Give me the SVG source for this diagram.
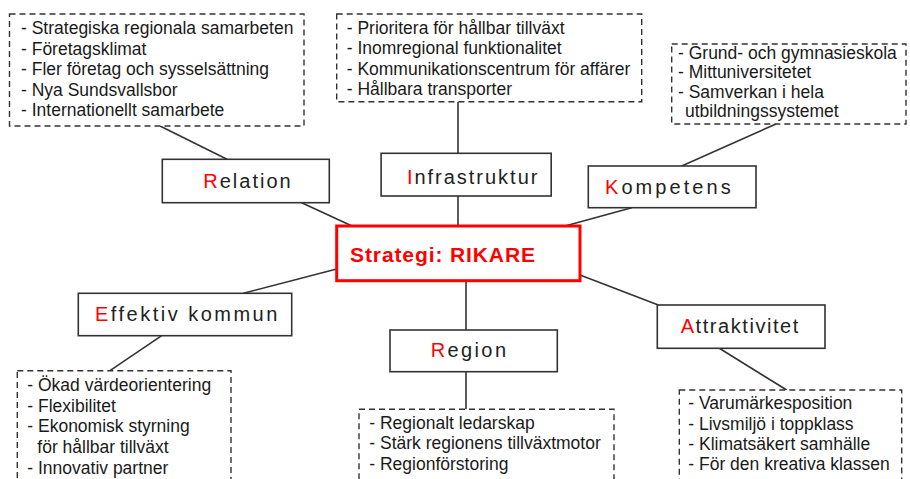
<svg xmlns="http://www.w3.org/2000/svg" width="910" height="479" viewBox="0 0 910 479">
<style>
.bg{fill:#fff}
.box{fill:#fff;stroke:#333;stroke-width:1.6}
.dbox{fill:#fff;stroke:#333;stroke-width:1.4;stroke-dasharray:6 4}
.center{fill:#fff;stroke:#ff0000;stroke-width:3}
.lbl{font-family:"Liberation Sans",Arial,sans-serif;font-size:20px;fill:#222}
.item{font-family:"Liberation Sans",Arial,sans-serif;font-size:17.5px;fill:#1a1a1a}
.red{fill:#ff0000}
.ctext{font-family:"Liberation Sans",Arial,sans-serif;font-size:21px;font-weight:bold;fill:#ff0000}
.conn line{stroke:#333;stroke-width:1.6}
</style>
<rect class="bg" x="0" y="0" width="910" height="479"/>
<g id="connectors" class="conn">
<line x1="160" y1="126" x2="227" y2="159.3"/>
<line x1="301.7" y1="202.7" x2="352" y2="226"/>
<line x1="458" y1="101.7" x2="458" y2="153.3"/>
<line x1="458" y1="196" x2="458" y2="226"/>
<line x1="776" y1="124" x2="681.7" y2="166"/>
<line x1="631.7" y1="207.7" x2="565" y2="226"/>
<line x1="243.3" y1="293.3" x2="336.7" y2="269"/>
<line x1="161.7" y1="335.7" x2="110" y2="370.7"/>
<line x1="466" y1="281" x2="466" y2="330"/>
<line x1="466" y1="371.7" x2="466" y2="409.3"/>
<line x1="580" y1="275" x2="658.3" y2="305"/>
<line x1="719.3" y1="348.3" x2="786.7" y2="390"/>
</g>
<g id="relation-items">
<rect class="dbox" x="9.5" y="14" width="294.5" height="112"/>
<text class="item" x="21" y="34">- Strategiska regionala samarbeten</text>
<text class="item" x="21" y="54.5">- Företagsklimat</text>
<text class="item" x="21" y="75">- Fler företag och sysselsättning</text>
<text class="item" x="21" y="95.5">- Nya Sundsvallsbor</text>
<text class="item" x="21" y="116">- Internationellt samarbete</text>
</g>
<g id="infra-items">
<rect class="dbox" x="336.7" y="14" width="305" height="87.7"/>
<text class="item" x="346.7" y="33.5">- Prioritera för hållbar tillväxt</text>
<text class="item" x="346.7" y="54">- Inomregional funktionalitet</text>
<text class="item" x="346.7" y="74.5">- Kommunikationscentrum för affärer</text>
<text class="item" x="346.7" y="95">- Hållbara transporter</text>
</g>
<g id="kompetens-items">
<rect class="dbox" x="671.7" y="44" width="234.3" height="80"/>
<text class="item" x="678" y="58.5">- Grund- och gymnasieskola</text>
<text class="item" x="678" y="78">- Mittuniversitetet</text>
<text class="item" x="678" y="97.5">- Samverkan i hela</text>
<text class="item" x="685" y="117">utbildningssystemet</text>
</g>
<g id="relation">
<rect class="box" x="162.3" y="159.3" width="167" height="43.4"/>
<text class="lbl" x="203.3" y="187.7" textLength="87.4"><tspan class="red">R</tspan>elation</text>
</g>
<g id="infrastruktur">
<rect class="box" x="381.1" y="153.3" width="170.1" height="42.7"/>
<text class="lbl" x="406.9" y="184" textLength="130.5"><tspan class="red">I</tspan>nfrastruktur</text>
</g>
<g id="kompetens">
<rect class="box" x="588.3" y="166" width="167.7" height="41.7"/>
<text class="lbl" x="605" y="194" textLength="125.7"><tspan class="red">K</tspan>ompetens</text>
</g>
<g id="strategi">
<rect class="center" x="336.7" y="226" width="243.3" height="54.7"/>
<text class="ctext" x="350" y="261.7" textLength="185">Strategi: RIKARE</text>
</g>
<g id="effektiv">
<rect class="box" x="78.3" y="293.3" width="213.4" height="42.4"/>
<text class="lbl" x="95" y="320.7" textLength="182.3"><tspan class="red">E</tspan>ffektiv kommun</text>
</g>
<g id="region">
<rect class="box" x="390" y="330" width="167.3" height="41.7"/>
<text class="lbl" x="430.7" y="357.3" textLength="75.3"><tspan class="red">R</tspan>egion</text>
</g>
<g id="attraktivitet">
<rect class="box" x="657.3" y="305" width="167.7" height="43.3"/>
<text class="lbl" x="680.7" y="333.3" textLength="117.6"><tspan class="red">A</tspan>ttraktivitet</text>
</g>
<g id="effektiv-items">
<rect class="dbox" x="17.3" y="370.7" width="213.7" height="120"/>
<text class="item" x="27.3" y="391">- Ökad värdeorientering</text>
<text class="item" x="27.3" y="411.5">- Flexibilitet</text>
<text class="item" x="27.3" y="432">- Ekonomisk styrning</text>
<text class="item" x="37.3" y="453">för hållbar tillväxt</text>
<text class="item" x="27.3" y="474">- Innovativ partner</text>
</g>
<g id="region-items">
<rect class="dbox" x="359" y="409.3" width="255" height="80"/>
<text class="item" x="369.3" y="428.5">- Regionalt ledarskap</text>
<text class="item" x="369.3" y="449">- Stärk regionens tillväxtmotor</text>
<text class="item" x="369.3" y="469.5">- Regionförstoring</text>
</g>
<g id="attraktivitet-items">
<rect class="dbox" x="679.3" y="390" width="222.4" height="100"/>
<text class="item" x="688.3" y="409.3">- Varumärkesposition</text>
<text class="item" x="688.3" y="429.5">- Livsmiljö i toppklass</text>
<text class="item" x="688.3" y="449.5">- Klimatsäkert samhälle</text>
<text class="item" x="688.3" y="470">- För den kreativa klassen</text>
</g>
</svg>
